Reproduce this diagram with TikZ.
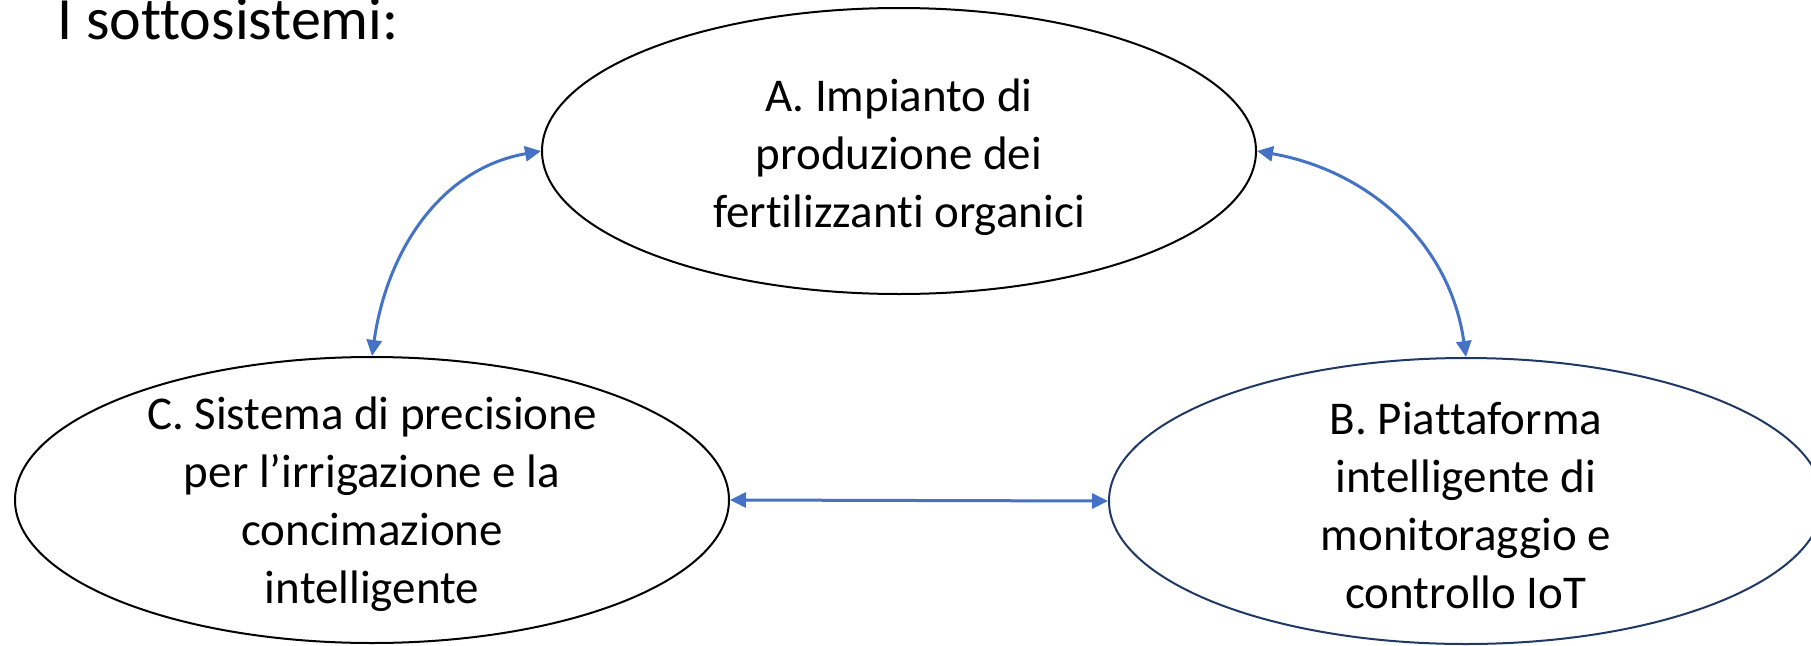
\documentclass[tikz,border=0pt]{standalone}
\usepackage{fontspec}
\setmainfont{Carlito}[Ligatures=NoCommon]
\usetikzlibrary{shapes.geometric,arrows.meta}
\definecolor{arrowblue}{HTML}{4472C4}
\definecolor{navyline}{HTML}{203864}
\begin{document}
\begin{tikzpicture}[x=0.5pt,y=0.5pt,
  sys/.style={ellipse, draw, line width=1pt, minimum width=357pt, minimum height=143pt, inner sep=0pt},
  systext/.style={align=center, inner sep=0pt, font=\fontsize{23.5}{29}\selectfont},
  link/.style={arrowblue, line width=1.5pt, {Triangle[length=8pt,width=7.5pt]}-{Triangle[length=8pt,width=7.5pt]}}]
\useasboundingbox (0,0) rectangle (1811,645);
\node[anchor=base west, font=\fontsize{30}{36}\selectfont, inner sep=0pt] (title) at (57,606) {I sottosistemi:};
\node[sys] (A) at (899,494) {};
\node[systext] (Atext) at ([yshift=-3pt]A.center) {A. Impianto di\\produzione dei\\fertilizzanti organici};
\node[sys] (C) at (372,145) {};
\node[systext] (Ctext) at ([yshift=-2pt]C.center) {C. Sistema di precisione\\per l’irrigazione e la\\concimazione\\intelligente};
\node[sys, draw=navyline] (B) at (1466,144) {};
\node[systext] (Btext) at ([yshift=-2pt]B.center) {B. Piattaforma\\intelligente di\\monitoraggio e\\controllo IoT};
\draw[link] (A.west) to[out=190,in=82] (C.north);
\draw[link] (A.east) to[out=-10,in=98] (B.north);
\draw[link] (C.east) -- (B.west);
\end{tikzpicture}
\end{document}
